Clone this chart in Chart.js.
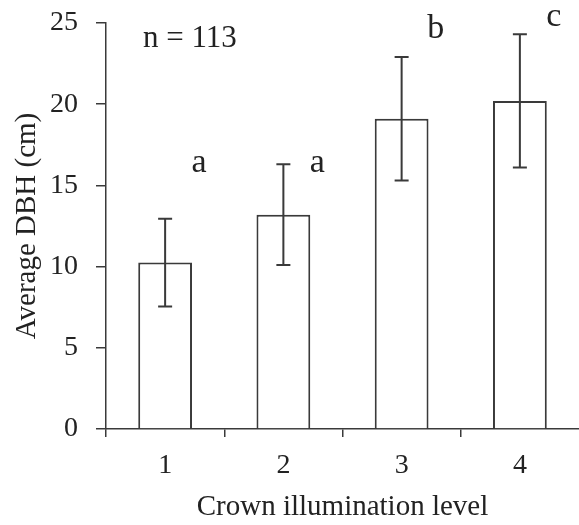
<!DOCTYPE html>
<html>
<head>
<meta charset="utf-8">
<script src="https://cdn.jsdelivr.net/npm/chart.js@4"></script>
<style>
    html, body { margin: 0; padding: 0; background: #fff; overflow: hidden; }
    #wrap { width: 579px; height: 525px; }
</style>
</head>
<body>
<div id="wrap"><canvas id="dbhChart"></canvas></div>
<script>
// Chart data
const levels = ["1", "2", "3", "4"];
const meanDbh = [10.25, 13.2, 19.1, 20.2];
const errDbh = [2.7, 3.1, 3.8, 4.1];
const groupLetters = ["a", "a", "b", "c"];
const sampleNote = "n = 113";
const yTicks = [0, 5, 10, 15, 20, 25];

const INK = "#3a3a3a";
const TEXT = "#222";
const FONT = "'Liberation Serif', 'Times New Roman', serif";

// Draws error bars, significance letters and the n note
const errorBarPlugin = {
    id: "errorBars",
    afterDatasetsDraw(chart) {
        const ctx = chart.ctx;
        const y = chart.scales.y;
        const meta = chart.getDatasetMeta(0);
        // letter placement (value units for baseline)
        const letterBase = [15.8, 15.8, 24.1, 24.8];

        ctx.save();
        ctx.strokeStyle = INK;
        ctx.lineWidth = 2;
        meta.data.forEach((bar, i) => {
            const top = y.getPixelForValue(meanDbh[i] + errDbh[i]);
            const bot = y.getPixelForValue(meanDbh[i] - errDbh[i]);
            ctx.beginPath();
            ctx.moveTo(bar.x, top);
            ctx.lineTo(bar.x, bot);
            ctx.moveTo(bar.x - 7, top);
            ctx.lineTo(bar.x + 7, top);
            ctx.moveTo(bar.x - 7, bot);
            ctx.lineTo(bar.x + 7, bot);
            ctx.stroke();

            ctx.fillStyle = TEXT;
            ctx.font = "34px " + FONT;
            ctx.textAlign = "center";
            ctx.textBaseline = "alphabetic";
            ctx.fillText(groupLetters[i], bar.x + 34, y.getPixelForValue(letterBase[i]));
        });

        ctx.font = "31px " + FONT;
        ctx.textAlign = "left";
        ctx.fillText(sampleNote, chart.chartArea.left + 37, chart.chartArea.top + 24);
        ctx.restore();
    }
};

new Chart(document.getElementById("dbhChart"), {
    type: "bar",
    data: {
        labels: levels,
        datasets: [{
            data: meanDbh,
            backgroundColor: "#fff",
            borderColor: INK,
            borderWidth: 2,
            barPercentage: 0.455,
            categoryPercentage: 1
        }]
    },
    options: {
        responsive: true,
        maintainAspectRatio: false,
        animation: false,
        layout: { padding: { top: 23, right: 0, left: 10, bottom: 0 } },
        plugins: {
            legend: { display: false },
            tooltip: { enabled: false }
        },
        scales: {
            x: {
                grid: {
                    offset: true,
                    drawOnChartArea: false,
                    tickLength: 8,
                    // the closing line past the last tick gets the scale context: hide it
                    tickColor: c => c.type === "tick" ? INK : "rgba(0,0,0,0)",
                    color: INK,
                    lineWidth: 1.5
                },
                border: { color: INK, width: 1.5 },
                ticks: {
                    color: TEXT,
                    padding: 12,
                    font: { family: FONT, size: 28 }
                },
                title: {
                    display: true,
                    text: "Crown illumination level",
                    color: TEXT,
                    font: { family: FONT, size: 29 },
                    padding: { top: 0, bottom: 0 }
                },
                afterFit(scale) { scale.height = 96; }
            },
            y: {
                min: 0,
                max: 25,
                afterBuildTicks(scale) { scale.ticks = yTicks.map(v => ({ value: v })); },
                grid: {
                    drawOnChartArea: false,
                    tickLength: 10,
                    color: INK,
                    lineWidth: 1.5
                },
                border: { color: INK, width: 1.5 },
                ticks: {
                    color: TEXT,
                    padding: 18,
                    font: { family: FONT, size: 28 }
                },
                title: {
                    display: true,
                    text: "Average DBH (cm)",
                    color: TEXT,
                    font: { family: FONT, size: 29 },
                    padding: { top: 0, bottom: 0 }
                },
                afterFit(scale) {
                    scale.width = 96;
                    // keep the top of the axis where the layout padding puts it
                    scale.paddingTop = 0;
                    scale.paddingBottom = 0;
                }
            }
        }
    },
    plugins: [errorBarPlugin]
});
</script>
</body>
</html>
